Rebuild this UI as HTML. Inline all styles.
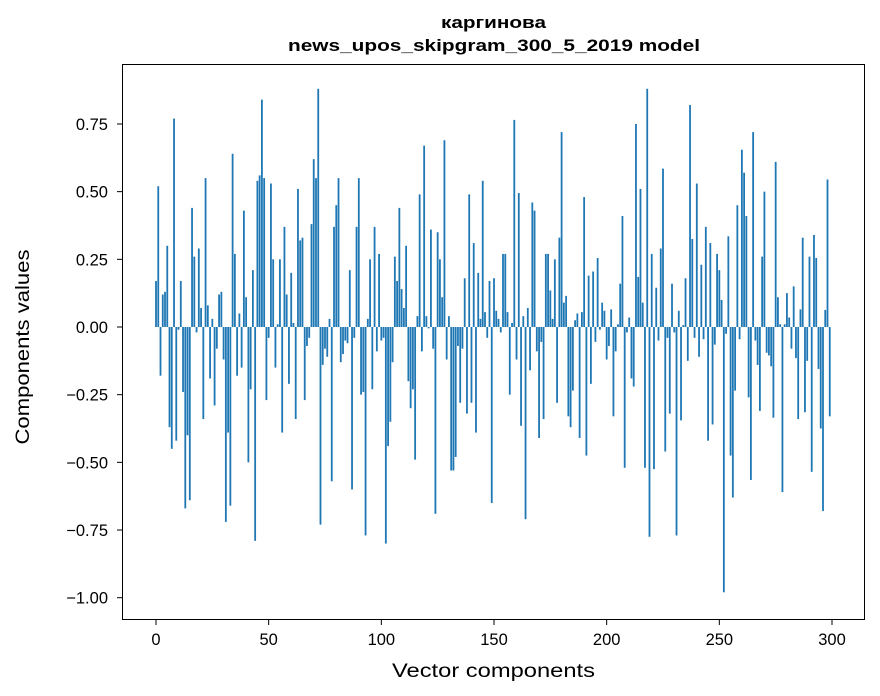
<!DOCTYPE html>
<html><head><meta charset="utf-8">
<style>
html,body{margin:0;padding:0;background:#fff;}
svg{display:block;font-family:"Liberation Sans","DejaVu Sans",sans-serif;}
</style></head>
<body>
<svg id="chart" width="880" height="696" viewBox="0 0 880 696" xmlns="http://www.w3.org/2000/svg">
<rect x="0" y="0" width="880" height="696" fill="#fff"/>
<text x="493.5" y="28" text-anchor="middle" font-size="17" font-weight="bold" textLength="105" lengthAdjust="spacingAndGlyphs">каргинова</text>
<text x="494" y="51" text-anchor="middle" font-size="17" font-weight="bold" textLength="412" lengthAdjust="spacingAndGlyphs">news_upos_skipgram_300_5_2019 model</text>
<g id="bars"></g>
<g id="xticks"></g>
<g id="yticks"></g>
<rect x="122.5" y="64.5" width="742" height="555" fill="none" stroke="#000" stroke-width="1"/>
<text x="493.5" y="677" text-anchor="middle" font-size="19" textLength="203" lengthAdjust="spacingAndGlyphs">Vector components</text>
<text transform="translate(29,347) rotate(-90)" text-anchor="middle" font-size="19" textLength="195" lengthAdjust="spacingAndGlyphs">Components values</text>
</svg>
<script>
const values = [
0.17,0.52,-0.18,0.12,0.13,0.30,-0.37,-0.45,0.77,-0.42,
-0.01,0.17,-0.24,-0.67,-0.40,-0.64,0.44,0.26,-0.02,0.29,
0.07,-0.34,0.55,0.08,-0.19,0.03,-0.29,-0.08,0.12,0.13,
-0.12,-0.72,-0.39,-0.66,0.64,0.27,-0.18,0.05,-0.15,0.43,
0.11,-0.50,-0.23,0.21,-0.79,0.54,0.56,0.84,0.55,-0.27,
-0.04,0.53,0.25,-0.15,0.01,0.25,-0.39,0.37,0.12,-0.21,
0.20,0.015,-0.34,0.51,0.32,0.33,-0.27,-0.07,-0.04,0.38,
0.62,0.55,0.88,-0.73,-0.14,-0.08,-0.11,0.03,-0.57,0.37,
0.45,0.55,-0.13,-0.10,-0.05,-0.06,0.21,-0.60,-0.04,0.37,
0.55,-0.25,-0.24,-0.77,0.03,0.25,-0.23,0.37,-0.09,0.27,
-0.05,-0.04,-0.80,-0.44,-0.35,-0.13,0.26,0.17,0.44,0.14,
0.07,0.30,-0.20,-0.30,-0.23,-0.49,0.04,0.49,-0.09,0.67,
0.04,-0.005,0.36,-0.08,-0.69,0.35,0.25,0.11,0.69,-0.12,
0.04,-0.53,-0.53,-0.48,-0.07,-0.28,-0.08,0.18,-0.32,0.49,
-0.28,0.31,-0.39,0.20,0.03,0.54,0.055,-0.04,0.17,-0.65,
0.18,0.06,0.03,-0.02,0.27,0.27,0.055,-0.25,0.015,0.765,
-0.12,0.495,-0.365,0.04,-0.71,0.07,-0.16,0.46,0.43,-0.09,
-0.41,-0.055,-0.34,0.27,0.27,0.135,0.03,0.25,-0.28,0.33,
0.72,0.09,0.115,-0.33,-0.37,-0.235,0.025,0.05,-0.41,0.055,
0.48,-0.475,0.19,-0.21,0.205,-0.055,0.255,-0.01,0.09,0.06,
-0.12,-0.07,0.065,-0.33,-0.09,0.01,0.16,0.41,-0.52,-0.02,
0.035,-0.19,-0.22,0.75,0.185,0.51,0.09,-0.52,0.88,-0.775,
0.27,-0.525,0.145,-0.05,0.29,0.585,-0.46,-0.04,-0.32,0.16,
-0.02,-0.77,0.06,-0.345,0.007,0.18,-0.125,0.82,0.325,-0.04,
0.53,-0.11,0.23,-0.045,0.37,-0.42,0.31,-0.36,-0.065,0.27,
0.21,0.10,-0.98,-0.025,0.335,-0.475,-0.63,-0.235,0.45,-0.045,
0.655,0.57,0.41,-0.26,-0.565,0.72,-0.05,-0.14,-0.31,0.26,
0.50,-0.095,-0.105,-0.145,-0.335,0.61,0.11,0.01,-0.61,0.01,
0.125,0.035,-0.08,0.15,-0.115,-0.34,0.065,0.33,-0.315,-0.125,
0.26,-0.535,0.34,0.255,-0.155,-0.375,-0.68,0.063,0.545,-0.33
];
const xTickValues = [0,50,100,150,200,250,300];
const xTickLabels = ["0","50","100","150","200","250","300"];
const yTickValues = [0.75,0.5,0.25,0,-0.25,-0.5,-0.75,-1.0];
const yTickLabels = ["0.75","0.50","0.25","0.00","\u22120.25","\u22120.50","\u22120.75","\u22121.00"];

const NS = "http://www.w3.org/2000/svg";
function xScale(v){ return 156 + (v/300)*676; }
function yScale(v){ return 327 - v*270.7; }
const bars = document.getElementById('bars');
const bw = 0.8*676/300;
values.forEach(function(v,i){
  const r = document.createElementNS(NS,'rect');
  const y0 = yScale(0), y1 = yScale(v);
  r.setAttribute('x', (xScale(i)-bw/2).toFixed(2));
  r.setAttribute('y', Math.min(y0,y1).toFixed(2));
  r.setAttribute('width', bw.toFixed(2));
  r.setAttribute('height', Math.max(Math.abs(y1-y0),0.3).toFixed(2));
  r.setAttribute('fill', '#1f77b4');
  
  
  bars.appendChild(r);
});
const xt = document.getElementById('xticks');
xTickValues.forEach(function(v,i){
  const x = xScale(v);
  const l = document.createElementNS(NS,'line');
  l.setAttribute('x1',x); l.setAttribute('x2',x);
  l.setAttribute('y1',620); l.setAttribute('y2',625);
  l.setAttribute('stroke','#000');
  
  
  xt.appendChild(l);
  const t = document.createElementNS(NS,'text');
  t.setAttribute('x',x); t.setAttribute('y',645);
  t.setAttribute('text-anchor','middle'); t.setAttribute('font-size','16.5');
  
  
  t.textContent = xTickLabels[i];
  xt.appendChild(t);
});
const yt = document.getElementById('yticks');
yTickValues.forEach(function(v,i){
  const y = yScale(v);
  const l = document.createElementNS(NS,'line');
  l.setAttribute('x1',117); l.setAttribute('x2',122);
  l.setAttribute('y1',y); l.setAttribute('y2',y);
  l.setAttribute('stroke','#000');
  
  
  yt.appendChild(l);
  const t = document.createElementNS(NS,'text');
  t.setAttribute('x',108); t.setAttribute('y',y+6);
  t.setAttribute('text-anchor','end'); t.setAttribute('font-size','16.5');
  
  
  t.textContent = yTickLabels[i];
  yt.appendChild(t);
});
</script>
</body></html>
